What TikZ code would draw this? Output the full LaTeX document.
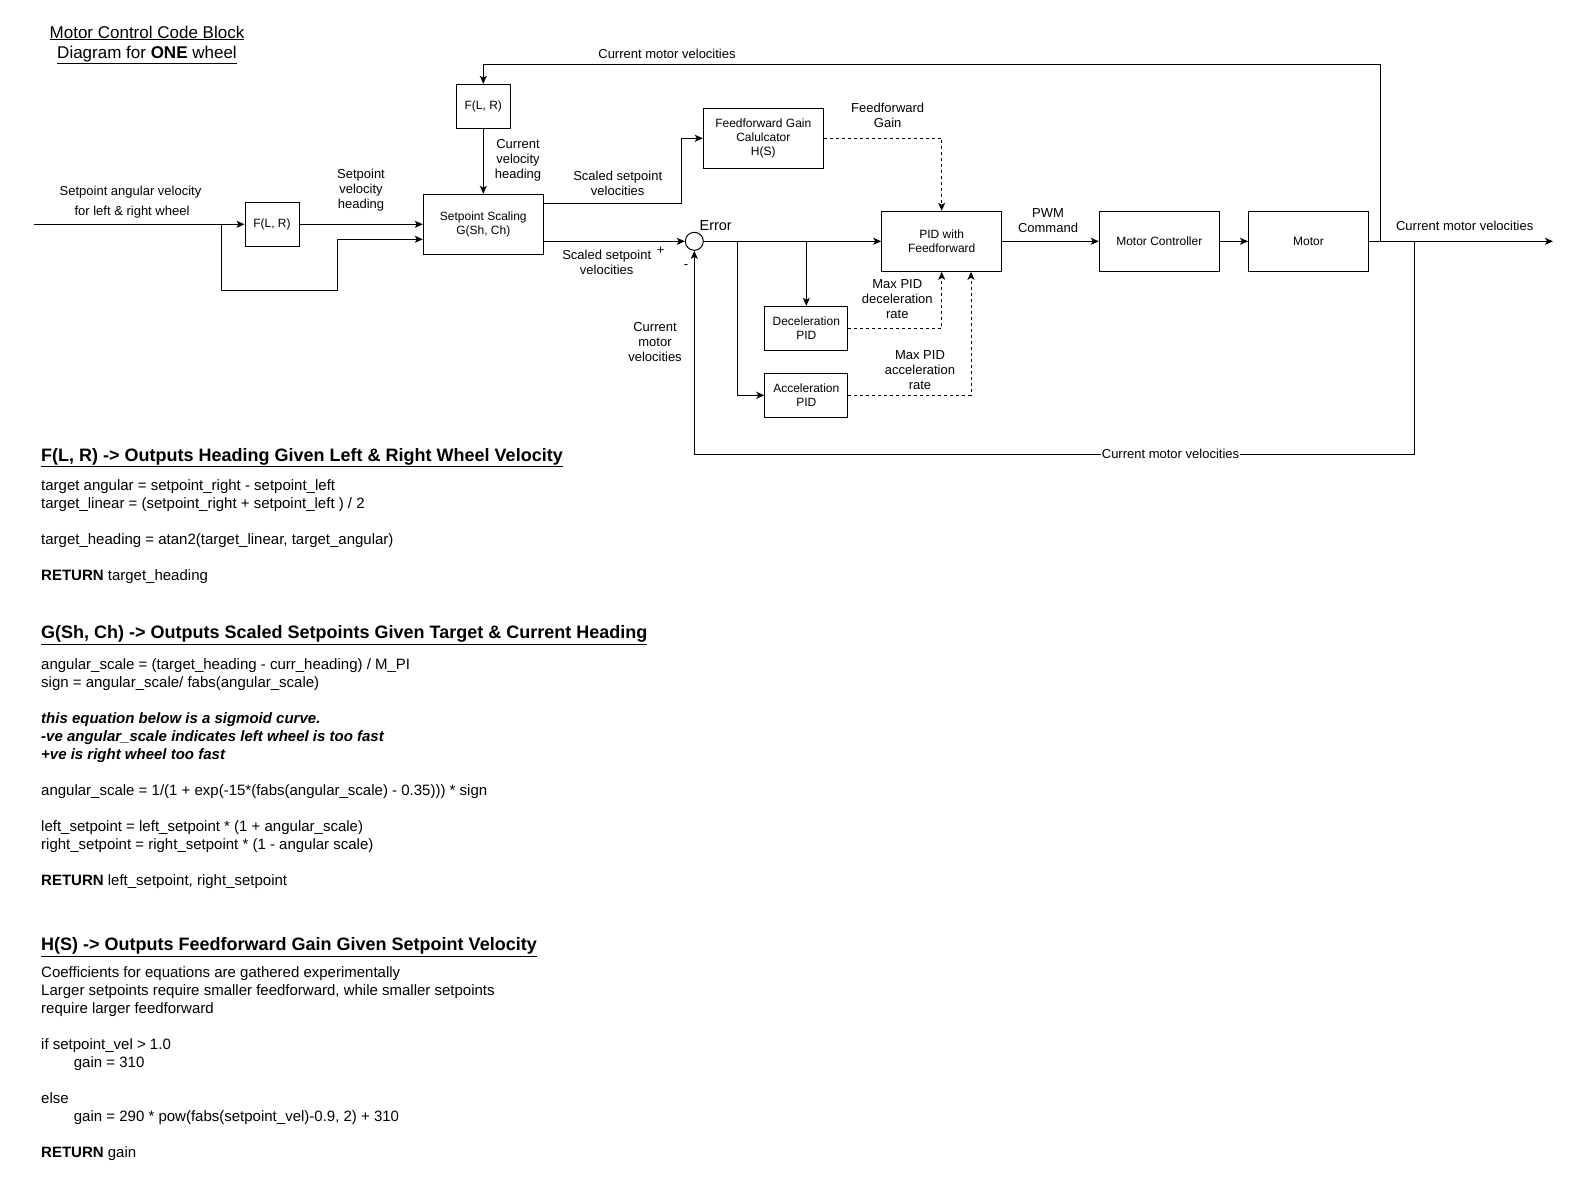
\documentclass[tikz,border=0pt]{standalone}
\usepackage{fontspec}
\setmainfont{Liberation Sans}
\usetikzlibrary{arrows.meta}
\begin{document}
\begin{tikzpicture}[x=1pt, y=-1pt,
  blk/.style={draw, line width=1pt, rectangle, inner sep=0pt, minimum width=120pt, minimum height=60pt, align=center, font=\fontsize{12}{14}\selectfont},
  smallbox/.style={minimum width=54pt, minimum height=44pt},
  pidbox/.style={minimum width=83pt, minimum height=44pt},
  lbl/.style={inner sep=0pt, align=center, font=\fontsize{13}{15}\selectfont},
  codeline/.style={inner sep=0pt, anchor=base west, font=\fontsize{15}{18}\selectfont},
  headline/.style={inner sep=0pt, anchor=base west, font=\fontsize{18}{21}\selectfont\bfseries},
  titleline/.style={inner sep=0pt, anchor=base, font=\fontsize{17}{20}\selectfont},
  wire/.style={line width=1pt},
  arr/.style={wire, -{Stealth[length=8pt,width=7pt,inset=2pt]}},
  dsh/.style={arr, dash pattern=on 3pt off 3pt}]
\useasboundingbox (0,0) rectangle (1583,1183);

% ---------- title ----------
\node[titleline] (title1) at (147,38) {\underline{Motor Control Code Block}};
\node[titleline] (title2) at (147,58) {\underline{Diagram for \textbf{ONE} wheel}};

% ---------- blocks ----------
\node[blk, smallbox] (f1) at (272,224.3) {F(L, R)};
\node[blk] (ss) at (483.3,224.3) {Setpoint Scaling\\G(Sh, Ch)};
\node[blk, smallbox] (f2) at (483.3,106.3) {F(L, R)};
\node[blk] (ff) at (763.3,138.3) {Feedforward Gain\\Calulcator\\H(S)};
\node[blk] (pid) at (941.7,241.3) {PID with\\Feedforward};
\node[blk] (mc) at (1159.3,241.3) {Motor Controller};
\node[blk] (mot) at (1308.5,241.3) {Motor};
\node[blk, pidbox] (dec) at (806.3,328.3) {Deceleration\\PID};
\node[blk, pidbox] (acc) at (806.3,395.3) {Acceleration\\PID};
\node[circle, draw, line width=1pt, minimum size=18pt, inner sep=0pt] (sum) at (694.3,241.3) {};

% ---------- coordinates ----------
\coordinate (in) at (34,224.3);
\coordinate (b1) at (221.3,224.3);
\coordinate (b1a) at (221.3,290);
\coordinate (b1b) at (337,290);
\coordinate (b1c) at (337,239.3);
\coordinate (ssout1) at (543.3,203.3);
\coordinate (u1) at (681.7,203.3);
\coordinate (u2) at (681.7,138.3);
\coordinate (ssout2) at (543.3,241.3);
\coordinate (e1) at (737.3,241.3);
\coordinate (e1a) at (737.3,395.3);
\coordinate (e2) at (806.3,241.3);
\coordinate (fdash) at (941.7,138.3);
\coordinate (ddash) at (941.7,328.3);
\coordinate (adash) at (971,395.3);
\coordinate (tp) at (1380.3,241.3);
\coordinate (tpa) at (1380.3,64.3);
\coordinate (tpb) at (483.3,64.3);
\coordinate (bt) at (1414.7,241.3);
\coordinate (bta) at (1414.7,454);
\coordinate (btb) at (694.3,454);
\coordinate (out) at (1553,241.3);

% ---------- connectors ----------
\draw[arr] (in) -- (f1.west);
\draw[arr] (b1) -- (b1a) -- (b1b) -- (b1c) -- (b1c -| ss.west);
\draw[arr] (f1.east) -- (ss.west);
\draw[arr] (tp) -- (tpa) -- (tpb) -- (f2.north);
\draw[arr] (f2.south) -- (ss.north);
\draw[arr] (ssout1) -- (u1) -- (u2) -- (ff.west);
\draw[arr] (ssout2) -- (sum.west);
\draw[arr] (sum.east) -- (pid.west);
\draw[arr] (e2) -- (dec.north);
\draw[arr] (e1) -- (e1a) -- (acc.west);
\draw[dsh] (ff.east) -- (fdash) -- (pid.north);
\draw[dsh] (dec.east) -- (ddash) -- (pid.south);
\draw[dsh] (acc.east) -- (adash) -- (adash |- pid.south);
\draw[arr] (pid.east) -- (mc.west);
\draw[arr] (mc.east) -- (mot.west);
\draw[arr] (mot.east) -- (out);
\draw[arr] (bt) -- (bta) -- (btb) -- (sum.south);

% ---------- labels ----------
\node[lbl] (lin1) at (130.5,192) {Setpoint angular velocity};
\node[lbl] (lin2) at (132,212) {for left \& right wheel};
\node[lbl] (lsvh) at (361,190.5) {Setpoint\\velocity\\heading};
\node[lbl] (lcvh) at (518,160.5) {Current\\velocity\\heading};
\node[lbl] (lcmvtop) at (667,54.3) {Current motor velocities};
\node[lbl] (lssv1) at (617.7,183) {Scaled setpoint\\velocities};
\node[lbl] (lffg) at (887.7,115.8) {Feedforward\\Gain};
\node[lbl, font=\fontsize{14.5}{17}\selectfont] (lerr) at (715.7,225.7) {Error};
\node[lbl] (lssv2) at (606.7,262.5) {Scaled setpoint\\velocities};
\node[lbl] (lplus) at (660.7,251) {+};
\node[lbl] (lminus) at (686,266.7) {-};
\node[lbl] (lpwm) at (1048,220.2) {PWM\\Command};
\node[lbl] (ldec) at (897.3,299.3) {Max PID\\deceleration\\rate};
\node[lbl] (lacc) at (920,369.7) {Max PID\\acceleration\\rate};
\node[lbl] (lcmvl) at (655,341.7) {Current\\motor\\velocities};
\node[lbl] (lcmvr) at (1464.7,226) {Current motor velocities};
\node[lbl, fill=white, inner sep=1pt] (lcmvb) at (1170.5,454) {Current motor velocities};

% ---------- F block text ----------
\node[headline] (hF) at (41,461.2) {\underline{F(L, R) -> Outputs Heading Given Left \& Right Wheel Velocity}};
\node[codeline] (f1l1) at (41,490) {target angular = setpoint\_right - setpoint\_left};
\node[codeline] (f1l2) at (41,508) {target\_linear = (setpoint\_right + setpoint\_left ) / 2};
\node[codeline] (f1l3) at (41,544) {target\_heading = atan2(target\_linear, target\_angular)};
\node[codeline] (f1l4) at (41,580) {\textbf{RETURN} target\_heading};

% ---------- G block text ----------
\node[headline] (hG) at (41,638.8) {\underline{G(Sh, Ch) -> Outputs Scaled Setpoints Given Target \& Current Heading}};
\node[codeline] (g1) at (41,669.3) {angular\_scale = (target\_heading - curr\_heading) / M\_PI};
\node[codeline] (g2) at (41,687.3) {sign = angular\_scale/ fabs(angular\_scale)};
\node[codeline, font=\fontsize{15}{18}\selectfont\bfseries\itshape] (g3) at (41,723.3) {this equation below is a sigmoid curve.};
\node[codeline, font=\fontsize{15}{18}\selectfont\bfseries\itshape] (g4) at (41,741.3) {-ve angular\_scale indicates left wheel is too fast};
\node[codeline, font=\fontsize{15}{18}\selectfont\bfseries\itshape] (g5) at (41,759.3) {+ve is right wheel too fast};
\node[codeline] (g6) at (41,795.3) {angular\_scale = 1/(1 + exp(-15*(fabs(angular\_scale) - 0.35))) * sign};
\node[codeline] (g7) at (41,831.3) {left\_setpoint = left\_setpoint * (1 + angular\_scale)};
\node[codeline] (g8) at (41,849.3) {right\_setpoint = right\_setpoint * (1 - angular scale)};
\node[codeline] (g9) at (41,885.3) {\textbf{RETURN} left\_setpoint, right\_setpoint};

% ---------- H block text ----------
\node[headline] (hH) at (41,950.9) {\underline{H(S) -> Outputs Feedforward Gain Given Setpoint Velocity}};
\node[codeline] (h1) at (41,977.6) {Coefficients for equations are gathered experimentally};
\node[codeline] (h2) at (41,995.6) {Larger setpoints require smaller feedforward, while smaller setpoints};
\node[codeline] (h3) at (41,1013.6) {require larger feedforward};
\node[codeline] (h4) at (41,1049.6) {if setpoint\_vel > 1.0};
\node[codeline] (h5) at (73.7,1067.6) {gain = 310};
\node[codeline] (h6) at (41,1103.6) {else};
\node[codeline] (h7) at (73.7,1121.6) {gain = 290 * pow(fabs(setpoint\_vel)-0.9, 2) + 310};
\node[codeline] (h8) at (41,1157.6) {\textbf{RETURN} gain};
\end{tikzpicture}
\end{document}
